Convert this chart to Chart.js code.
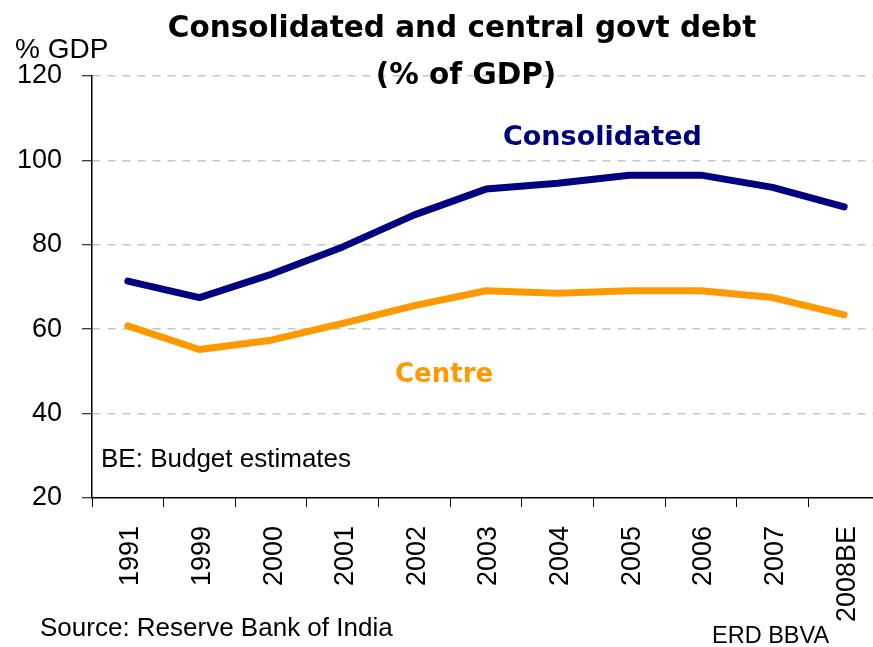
<!DOCTYPE html>
<html>
<head>
<meta charset="utf-8">
<title>Consolidated and central govt debt</title>
<script src="https://cdn.jsdelivr.net/npm/chart.js@4/dist/chart.umd.min.js"></script>
<style>
  html, body { margin: 0; padding: 0; background: #fff; overflow: hidden; }
  #debt-chart { display: block; }
</style>
</head>
<body>
<canvas id="debt-chart" width="884" height="647"></canvas>
<script>
// Debt as % of GDP, fiscal years (2008 = budget estimate)
const YEARS = ['1991', '1999', '2000', '2001', '2002', '2003', '2004', '2005', '2006', '2007', '2008BE'];
const CONSOLIDATED = [71.4, 67.5, 73.0, 79.5, 87.1, 93.2, 94.6, 96.5, 96.5, 93.6, 89.0];
const CENTRE = [60.8, 55.2, 57.4, 61.4, 65.6, 69.1, 68.5, 69.1, 69.1, 67.5, 63.4];

const Y_MIN = 20;
const Y_MAX = 120;
const Y_STEP = 20;

const NAVY = '#000080';
const ORANGE = '#ff9900';
const REGULAR = '"Liberation Sans", Arial, sans-serif';
const BOLD = '"DejaVu Sans", Verdana, sans-serif';

// Titles, series names and footnotes drawn straight onto the canvas
const textLayer = {
  id: 'textLayer',
  afterDraw(chart) {
    const { ctx } = chart;
    const put = (text, x, y, font, color, align = 'left') => {
      ctx.font = font;
      ctx.fillStyle = color;
      ctx.textAlign = align;
      ctx.textBaseline = 'alphabetic';
      ctx.fillText(text, x, y);
    };
    ctx.save();
    put('Consolidated and central govt debt', 462, 37, `bold 29.5px ${BOLD}`, '#000', 'center');
    put('(% of GDP)', 466, 84, `bold 29.5px ${BOLD}`, '#000', 'center');
    put('% GDP', 15, 58, `28px ${REGULAR}`, '#000');
    put('Consolidated', 503, 145, `bold 27px ${BOLD}`, NAVY);
    put('Centre', 395, 382, `bold 26px ${BOLD}`, ORANGE);
    put('BE: Budget estimates', 101, 467, `26px ${REGULAR}`, '#000');
    put('Source: Reserve Bank of India', 40, 636, `26px ${REGULAR}`, '#000');
    put('ERD BBVA', 712, 643, `23.5px ${REGULAR}`, '#000');
    ctx.restore();
  }
};

const lineSet = (label, data, color) => ({
  label,
  data,
  borderColor: color,
  backgroundColor: color,
  borderWidth: 7,
  borderCapStyle: 'round',
  borderJoinStyle: 'round',
  pointRadius: 0,
  tension: 0,
  fill: false,
});

new Chart(document.getElementById('debt-chart'), {
  type: 'line',
  data: {
    labels: YEARS,
    datasets: [
      lineSet('Consolidated', CONSOLIDATED, NAVY),
      lineSet('Centre', CENTRE, ORANGE),
    ],
  },
  options: {
    responsive: false,
    animation: false,
    events: [],
    devicePixelRatio: 1,
    layout: { padding: { top: 76, right: 4, left: 0, bottom: 0 } },
    plugins: {
      legend: { display: false },
      tooltip: { enabled: false },
      title: { display: false },
    },
    scales: {
      x: {
        type: 'category',
        offset: true,
        afterFit: (scale) => {
          scale.height = 149;
          // rotated year labels need no side room
          scale.paddingLeft = 0;
          scale.paddingRight = 0;
        },
        grid: {
          offset: true,
          drawOnChartArea: false,
          drawTicks: true,
          tickLength: 9,
          tickColor: '#000',
          tickWidth: 1,
        },
        border: { display: true, color: '#000', width: 1.5 },
        ticks: {
          color: '#000',
          font: { family: REGULAR, size: 27 },
          minRotation: 90,
          maxRotation: 90,
          autoSkip: false,
          padding: 19,
          labelOffset: 3,
        },
      },
      y: {
        min: Y_MIN,
        max: Y_MAX,
        afterFit: (scale) => { scale.width = 92; },
        grid: {
          color: (c) => (c.tick && c.tick.value === Y_MIN ? 'rgba(0,0,0,0)' : '#c6c6c6'),
          lineWidth: 1.5,
          drawTicks: true,
          tickLength: 10,
          tickColor: '#000',
          tickWidth: 1,
          tickBorderDash: [],
        },
        border: { display: true, color: '#000', width: 1.5, dash: [8, 7] },
        ticks: {
          stepSize: Y_STEP,
          color: '#000',
          font: { family: REGULAR, size: 27 },
          padding: 20,
        },
      },
    },
  },
  plugins: [textLayer],
});
</script>
</body>
</html>
